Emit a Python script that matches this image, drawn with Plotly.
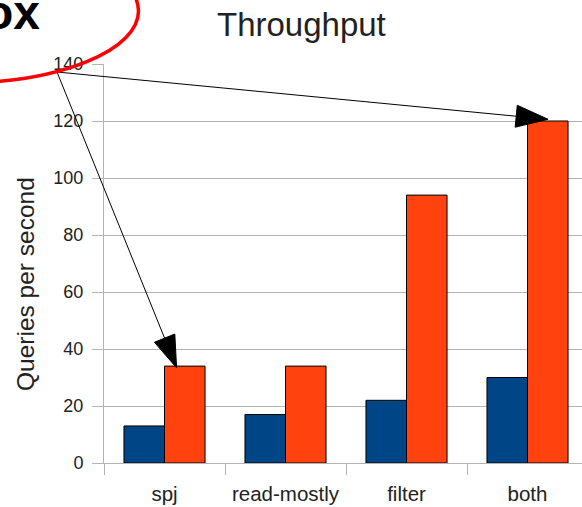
import math
import plotly.graph_objects as go

# ---------------- data ----------------
categories = ["spj", "read-mostly", "filter", "both"]
series_blue = [13, 17, 22, 30]
series_orange = [34, 34, 94, 120]
y_tick_values = [0, 20, 40, 60, 80, 100, 120, 140]
title_text = "Throughput"
y_title_text = "Queries per second"

# ---------------- layout geometry ----------------
W, H = 582, 507
ML, MR, MT, MB = 104, 0, 64, 44
PW, PH = W - ML - MR, H - MT - MB
CAT_PX = 121.0
XR = [-0.5, -0.5 + PW / CAT_PX]
YR = [0, 140]
FONT = "Liberation Sans"
TXT = "#222222"
GRID = "#b3b3b3"


def d2px(xd, yd):
    px = ML + (xd - XR[0]) / (XR[1] - XR[0]) * PW
    py = MT + (1 - (yd - YR[0]) / (YR[1] - YR[0])) * PH
    return px, py


def px2paper(px, py):
    return (px - ML) / PW, (H - MB - py) / PH


fig = go.Figure()
fig.add_trace(go.Bar(x=categories, y=series_blue, marker=dict(color="#004586", line=dict(color="#000000", width=1)),
                     showlegend=False))
fig.add_trace(go.Bar(x=categories, y=series_orange, marker=dict(color="#ff420e", line=dict(color="#000000", width=1)),
                     showlegend=False))

shapes = []
annotations = []

# ---- arrows (decoration) ----
tail_px = (57, 72)
tips = [
    d2px(3 + 0.17, series_orange[3] + 0.6),
    d2px(0 + 0.10, series_orange[0] - 0.6),
]
HEAD_L, HEAD_W = 32, 22
for tx, ty in tips:
    sx, sy = tail_px
    dx, dy = tx - sx, ty - sy
    n = math.hypot(dx, dy)
    ux, uy = dx / n, dy / n
    nx, ny = -uy, ux
    bx, by = tx - HEAD_L * ux, ty - HEAD_L * uy
    p0 = px2paper(sx, sy)
    p1 = px2paper(bx, by)
    shapes.append(dict(type="line", xref="paper", yref="paper", x0=p0[0], y0=p0[1], x1=p1[0], y1=p1[1],
                       line=dict(color="black", width=1), layer="above"))
    a = px2paper(tx, ty)
    b = px2paper(bx + nx * HEAD_W / 2, by + ny * HEAD_W / 2)
    c = px2paper(bx - nx * HEAD_W / 2, by - ny * HEAD_W / 2)
    shapes.append(dict(type="path", xref="paper", yref="paper",
                       path=f"M {a[0]},{a[1]} L {b[0]},{b[1]} L {c[0]},{c[1]} Z",
                       fillcolor="black", line=dict(color="black", width=1), layer="above"))

# ---- red ellipse ----
e0 = px2paper(-218.5, -61)
e1 = px2paper(138.5, 83)
shapes.append(dict(type="circle", xref="paper", yref="paper", x0=e0[0], y0=e1[1], x1=e1[0], y1=e0[1],
                   line=dict(color="#ff0000", width=3.5), layer="above"))

# ---- texts ----
tp = px2paper(301.5, 25)
annotations.append(dict(text=title_text, xref="paper", yref="paper", x=tp[0], y=tp[1], xanchor="center",
                        yanchor="middle", showarrow=False, font=dict(family=FONT, size=33, color=TXT)))
yp = px2paper(25, 284)
annotations.append(dict(text=y_title_text, xref="paper", yref="paper", x=yp[0], y=yp[1], xanchor="center",
                        yanchor="middle", textangle=-90, showarrow=False,
                        font=dict(family=FONT, size=24.5, color=TXT)))
op = px2paper(42, 12)
annotations.append(dict(text="<b>ox</b>", xref="paper", yref="paper", x=op[0], y=op[1], xanchor="right",
                        yanchor="middle", showarrow=False, font=dict(family=FONT, size=48, color="black")))

fig.update_layout(
    width=W, height=H,
    margin=dict(l=ML, r=MR, t=MT, b=MB, pad=0),
    paper_bgcolor="white", plot_bgcolor="white",
    barmode="group", bargap=0.33, bargroupgap=0,
    font=dict(family=FONT, color=TXT),
    shapes=shapes, annotations=annotations,
    xaxis=dict(type="category", range=XR, tickson="boundaries", ticks="outside", ticklen=11,
               tickcolor=GRID, tickwidth=1, showgrid=False, showline=True, linecolor=GRID, linewidth=1,
               tickfont=dict(family=FONT, size=20.5, color=TXT), zeroline=False, ticklabelstandoff=12),
    yaxis=dict(range=YR, tickvals=y_tick_values, ticks="outside", ticklen=11, tickcolor=GRID, tickwidth=1,
               showgrid=True, gridcolor=GRID, gridwidth=1, showline=True, linecolor=GRID, linewidth=1,
               zeroline=False, tickfont=dict(family=FONT, size=18, color=TXT), ticklabelstandoff=5),
)

fig.write_html("out.html")
